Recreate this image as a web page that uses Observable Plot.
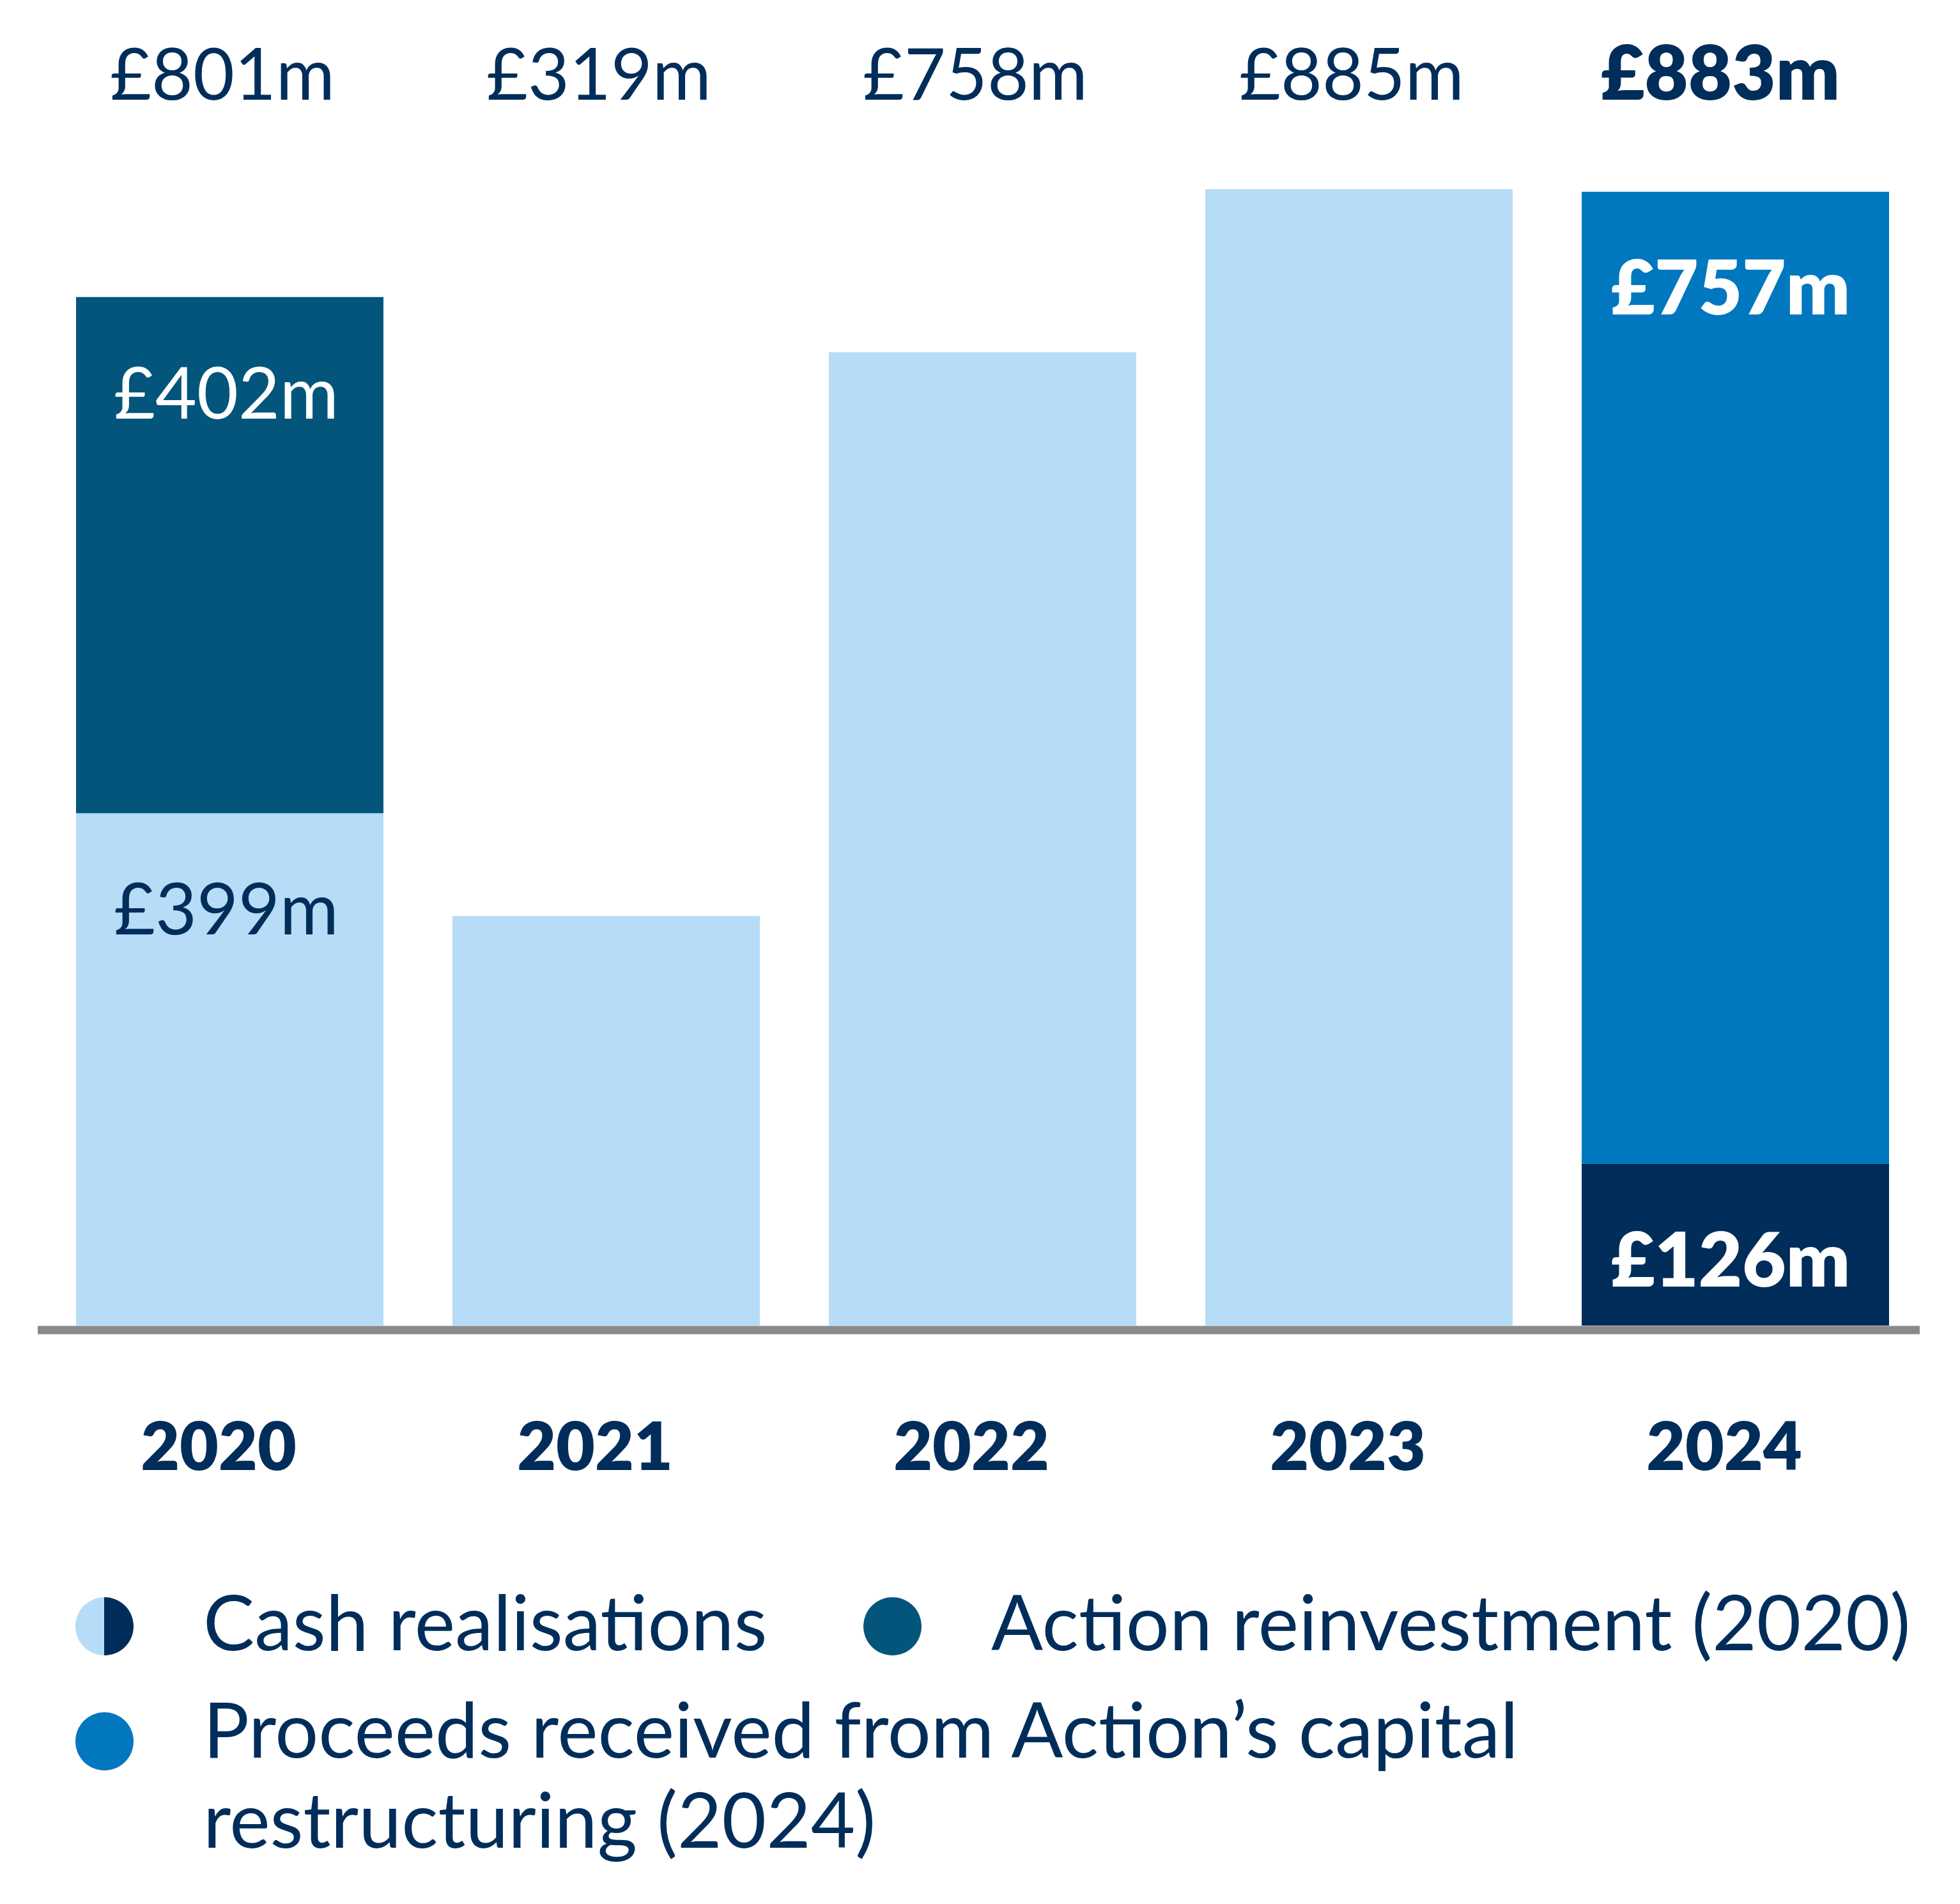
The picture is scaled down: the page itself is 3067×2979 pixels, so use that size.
<!DOCTYPE html>
<html><head><meta charset="utf-8">
<script src="https://cdn.jsdelivr.net/npm/d3@7"></script>
<script src="https://cdn.jsdelivr.net/npm/@observablehq/plot@0.6"></script>
<style>
body{margin:0;background:#fff;font-family:Lato,"Noto Sans",sans-serif;color:#002d5a;}
#wrap{position:relative;width:3067px;height:2979px;overflow:hidden;}
#chart{position:absolute;left:0;top:0;}
.leg{position:absolute;font-size:120px;line-height:141px;white-space:nowrap;font-weight:400;}
.dot{position:absolute;width:91px;height:91px;border-radius:50%;}
</style></head><body><div id="wrap"><div id="chart"></div></div>
<script>
const years = ["2020","2021","2022","2023","2024"];
const cashRealisations = [399, 319, 758, 885, 126];
const actionReinvestment = [402, 0, 0, 0, 0];
const capitalRestructuring = [0, 0, 0, 0, 757];
const totals = [801, 319, 758, 885, 883];
const legendLabels = ["Cash realisations", "Action reinvestment (2020)", "Proceeds received from Action\u2019s capital restructuring (2024)"];

const LIGHT = "#b6dcf7", NAVY = "#002d5a", TEAL = "#03557b", BLUE = "#0077be", WHITE = "#ffffff";
const fmt = v => `£${v}m`;

const rows = [];
years.forEach((year, i) => {
  const cur = i === years.length - 1;
  rows.push({year, series: legendLabels[0], value: cashRealisations[i], fill: cur ? NAVY : LIGHT,
    label: (cur || actionReinvestment[i] > 0) ? fmt(cashRealisations[i]) : null, labelFill: cur ? WHITE : NAVY, bold: cur});
  rows.push({year, series: legendLabels[1], value: actionReinvestment[i], fill: TEAL,
    label: actionReinvestment[i] > 0 ? fmt(actionReinvestment[i]) : null, labelFill: WHITE, bold: cur});
  rows.push({year, series: legendLabels[2], value: capitalRestructuring[i], fill: BLUE,
    label: capitalRestructuring[i] > 0 ? fmt(capitalRestructuring[i]) : null, labelFill: WHITE, bold: cur});
});

const chart = Plot.plot({
  width: 3067, height: 2360,
  marginTop: 296, marginBottom: 286, marginLeft: 59, marginRight: 63,
  x: {domain: years, range: [117, 2958], paddingInner: 0.183, paddingOuter: 0},
  y: {domain: [0, 885], axis: null},
  color: {type: "identity"},
  style: {fontFamily: "Lato, 'Noto Sans', sans-serif", background: "transparent", color: NAVY},
  marks: [
    Plot.barY(rows, {x: "year", y: "value", fill: "fill"}),
    Plot.text(rows, Plot.stackY2({x: "year", y: "value", text: d => d.bold ? null : d.label, fill: "labelFill",
      lineAnchor: "top", dy: 110, dx: -6, fontSize: 112, fontWeight: 400})),
    Plot.text(rows, Plot.stackY2({x: "year", y: "value", text: d => d.bold ? d.label : null, fill: "labelFill",
      lineAnchor: "top", dy: 108, dx: -8, fontSize: 118, fontWeight: 800})),
    Plot.ruleY([0], {stroke: "#8a8a8a", strokeWidth: 13, dy: 6.5}),
    Plot.text(years, {x: d => d, text: (d, i) => i < years.length - 1 ? fmt(totals[i]) : null,
      frameAnchor: "top", lineAnchor: "bottom", dy: -141, dx: -12, fontSize: 112, fontWeight: 400, fill: NAVY}),
    Plot.text(years, {x: d => d, text: (d, i) => i === years.length - 1 ? fmt(totals[i]) : null,
      frameAnchor: "top", lineAnchor: "bottom", dy: -141, dx: -24, fontSize: 118, fontWeight: 800, fill: NAVY}),
    Plot.axisX({tickSize: 0, tickPadding: 151, dx: -18, fontSize: 105, fontWeight: 800, color: NAVY, label: null})
  ]
});
document.getElementById("chart").appendChild(chart);

// Legend (HTML, below the SVG plot area)
const wrap = document.getElementById("wrap");
function dot(x, y, bg) {
  const d = document.createElement("div");
  d.className = "dot";
  d.style.left = (x - 45.5) + "px";
  d.style.top = (y - 45.5) + "px";
  d.style.background = bg;
  wrap.appendChild(d);
}
function label(x, top, text, width) {
  const d = document.createElement("div");
  d.className = "leg";
  d.style.left = x + "px";
  d.style.top = top + "px";
  if (width) { d.style.whiteSpace = "normal"; d.style.width = width + "px"; }
  d.textContent = text;
  wrap.appendChild(d);
}
dot(163, 2544, `linear-gradient(to right, ${LIGHT} 50%, ${NAVY} 50%)`);
label(318, 2466, legendLabels[0]);
dot(1396, 2544, TEAL);
label(1551, 2466, legendLabels[1]);
dot(163, 2724, BLUE);
label(318, 2634, legendLabels[2], 2250);
</script>
</body></html>
